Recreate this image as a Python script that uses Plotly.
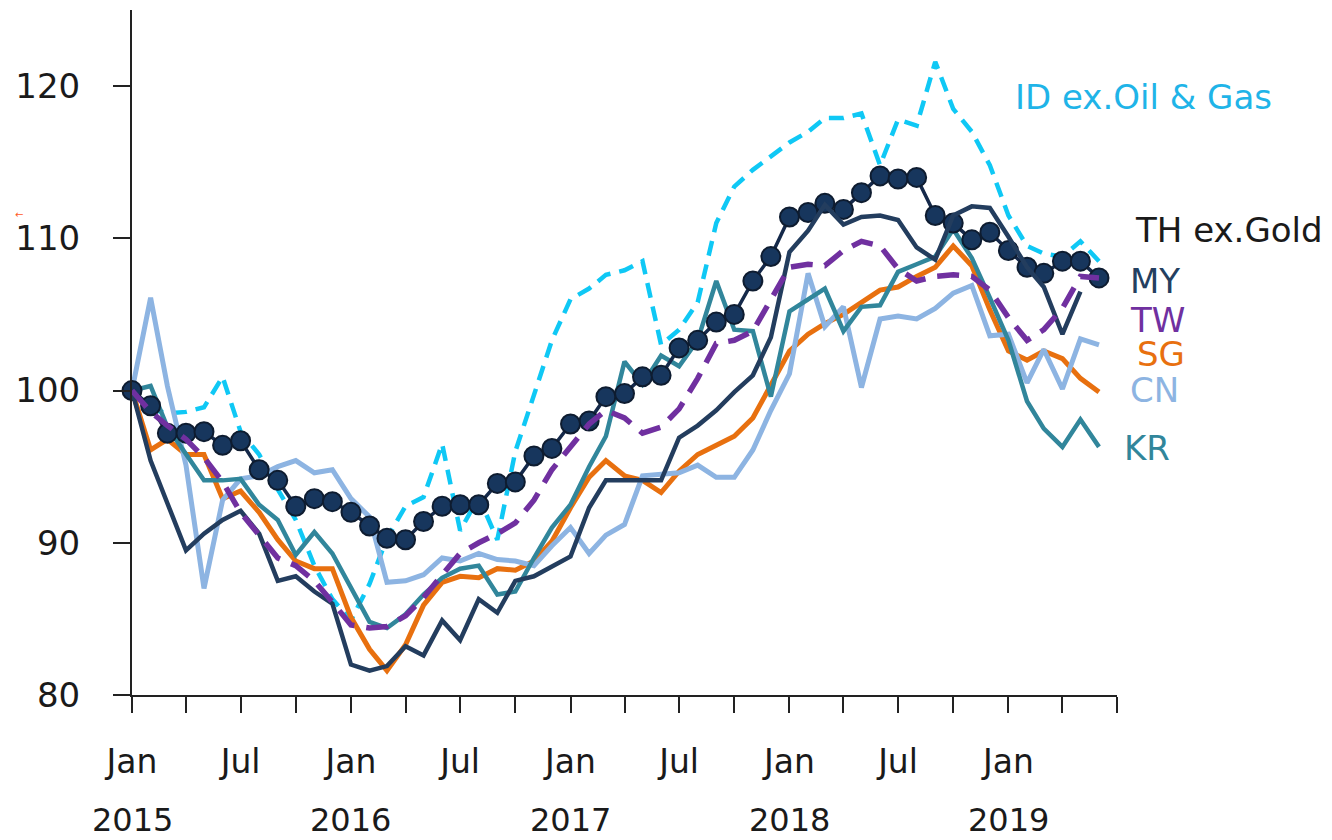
import pandas as pd
import plotly.graph_objects as go

# monthly index values, Jan 2015 = 100
months = pd.date_range("2015-01-01", periods=54, freq="MS")

th_ex_gold = [100.0, 99.0, 97.2, 97.2, 97.3, 96.4, 96.7, 94.8, 94.1, 92.4, 92.9, 92.7,
              92.0, 91.1, 90.3, 90.2, 91.4, 92.4, 92.5, 92.5, 93.9, 94.0, 95.7, 96.2,
              97.8, 98.0, 99.6, 99.8, 100.9, 101.0, 102.8, 103.3, 104.5, 105.0, 107.2, 108.8,
              111.4, 111.7, 112.3, 111.9, 113.0, 114.1, 113.9, 114.0, 111.5, 111.0, 109.9, 110.4,
              109.2, 108.1, 107.7, 108.5, 108.5, 107.4]
my = [100.0, 95.4, 92.6, 89.5, 90.6, 91.5, 92.1, 90.6, 87.5, 87.8, 86.8, 86.0,
      82.0, 81.6, 81.9, 83.2, 82.6, 84.9, 83.6, 86.3, 85.4, 87.5, 87.8, 88.4,
      89.1, 92.3, 94.1, 94.1, 94.1, 94.1, 96.9, 97.7, 98.7, 99.9, 101.0, 103.5,
      109.1, 110.5, 112.2, 110.9, 111.4, 111.5, 111.2, 109.4, 108.6, 111.5, 112.1, 112.0,
      110.1, 108.1, 106.8, 103.7, 106.5]
tw = [100.0, 98.6, 97.7, 96.8, 95.6, 94.0, 92.0, 90.5, 89.0, 88.5, 87.5, 86.1,
      84.6, 84.4, 84.5, 85.2, 86.4, 87.9, 89.3, 90.0, 90.6, 91.3, 92.8, 94.8,
      96.3, 97.8, 98.7, 98.2, 97.2, 97.6, 98.8, 100.8, 103.1, 103.3, 103.9, 105.9,
      108.1, 108.3, 108.2, 109.2, 109.8, 109.5, 108.0, 107.2, 107.5, 107.6, 107.5, 106.6,
      104.8, 103.3, 104.0, 105.4, 107.5, 107.4]
sg = [100.0, 96.1, 96.8, 95.8, 95.8, 92.9, 93.4, 92.0, 90.2, 88.8, 88.3, 88.3,
      85.1, 83.0, 81.6, 83.3, 85.9, 87.4, 87.8, 87.7, 88.3, 88.2, 88.8, 90.1,
      92.3, 94.3, 95.4, 94.4, 94.1, 93.3, 94.7, 95.8, 96.4, 97.0, 98.2, 100.3,
      102.6, 103.7, 104.4, 105.0, 105.8, 106.6, 106.8, 107.5, 108.1, 109.5, 108.2, 105.3,
      102.6, 102.0, 102.6, 102.1, 100.8, 99.9]
cn = [100.0, 106.1, 100.3, 95.1, 87.0, 92.8, 94.2, 94.4, 95.0, 95.4, 94.6, 94.8,
      92.9, 91.7, 87.4, 87.5, 87.9, 89.0, 88.8, 89.3, 88.9, 88.8, 88.5, 89.8,
      91.0, 89.3, 90.5, 91.2, 94.4, 94.5, 94.6, 95.1, 94.3, 94.3, 96.1, 98.7,
      101.1, 107.7, 104.2, 105.5, 100.2, 104.7, 104.9, 104.7, 105.4, 106.4, 106.9, 103.6,
      103.7, 100.5, 102.7, 100.1, 103.4, 103.0]
kr = [100.0, 100.3, 97.6, 95.8, 94.1, 94.1, 94.2, 92.5, 91.5, 89.2, 90.7, 89.3,
      87.1, 84.8, 84.4, 85.3, 86.6, 87.7, 88.3, 88.5, 86.6, 86.8, 89.0, 91.0,
      92.5, 95.0, 97.0, 101.9, 100.4, 102.3, 101.6, 103.3, 107.2, 104.0, 103.9, 99.6,
      105.2, 106.0, 106.7, 103.9, 105.5, 105.6, 107.8, 108.3, 108.8, 110.6, 108.7, 106.1,
      103.3, 99.3, 97.5, 96.3, 98.1, 96.3]
id_ex_oil = [100.0, 98.8, 98.5, 98.6, 98.9, 100.9, 97.3, 95.8, 93.5, 91.5, 88.5, 86.3,
             84.9, 87.3, 90.3, 92.4, 93.0, 96.5, 90.8, 93.0, 90.2, 96.0, 99.7, 103.3,
             106.0, 106.7, 107.6, 107.9, 108.5, 103.0, 104.0, 105.8, 111.0, 113.4, 114.5, 115.4,
             116.3, 117.0, 117.9, 117.9, 118.2, 114.8, 117.8, 117.4, 121.6, 118.5, 117.0, 114.8,
             111.5, 109.5, 109.0, 108.8, 109.8, 108.5]

tick_dates = pd.date_range("2015-01-01", "2019-07-01", freq="3MS")
tick_text = ["Jan" if d.month == 1 else "Jul" if d.month == 7 else "" for d in tick_dates]
tick_text[-1] = ""  # no label on the closing tick
years = [2015, 2016, 2017, 2018, 2019]

FONT = "DejaVu Sans"

fig = go.Figure()

# ID ex.Oil & Gas - cyan dashed
fig.add_trace(go.Scatter(x=months, y=id_ex_oil, mode="lines",
                         line=dict(color="#0FC8F5", width=4.5, dash="15px,9px")))
fig.add_trace(go.Scatter(x=months, y=sg, mode="lines",
                         line=dict(color="#E8700F", width=5)))
fig.add_trace(go.Scatter(x=months, y=cn, mode="lines",
                         line=dict(color="#8DB4E2", width=5)))
fig.add_trace(go.Scatter(x=months, y=kr, mode="lines",
                         line=dict(color="#31869B", width=4.5)))
# TH ex.Gold - dots
fig.add_trace(go.Scatter(x=months, y=th_ex_gold, mode="lines+markers", cliponaxis=False,
                         line=dict(color="#15294A", width=3.5),
                         marker=dict(size=19, color="#17365D",
                                     line=dict(color="#0E1C30", width=2))))
fig.add_trace(go.Scatter(x=months[:len(my)], y=my, mode="lines",
                         line=dict(color="#233D5E", width=4.5)))
fig.add_trace(go.Scatter(x=months, y=tw, mode="lines",
                         line=dict(color="#7030A0", width=5.5, dash="22px,12px")))

# series labels on the right
labels = [
    ("ID ex.Oil & Gas", "#1FB4E8", 1013, 97),
    ("TH ex.Gold", "#1A1A1A", 1133, 230),
    ("MY", "#243F60", 1128, 281),
    ("TW", "#7030A0", 1128, 320),
    ("SG", "#E8700F", 1135, 354),
    ("CN", "#8DB4E2", 1128, 390),
    ("KR", "#31869B", 1122, 448),
]
x0, x1, y0, y1 = 132, 1117, 10, 695
for text, color, px, py in labels:
    fig.add_annotation(text=text, xref="paper", yref="paper",
                       x=(px - x0) / (x1 - x0), y=(y1 - py) / (y1 - y0),
                       xanchor="left", yanchor="middle", showarrow=False,
                       font=dict(family=FONT, size=34, color=color))

# stray little arrow seen at the far left of the original
fig.add_annotation(text="←", xref="paper", yref="paper",
                   x=(13 - x0) / (x1 - x0), y=(y1 - 207) / (y1 - y0),
                   showarrow=False, font=dict(family=FONT, size=10, color="#FF5A1F"))

for yr in years:
    fig.add_annotation(text=str(yr), xref="x", yref="paper",
                       x=f"{yr}-01-01", y=(y1 - 820) / (y1 - y0),
                       xanchor="center", yanchor="middle", showarrow=False,
                       font=dict(family=FONT, size=32, color="#1A1A1A"))

fig.update_layout(
    width=1332, height=840,
    margin=dict(l=x0, r=1332 - x1, t=y0, b=840 - y1, autoexpand=False),
    plot_bgcolor="white", paper_bgcolor="white",
    showlegend=False, hovermode=False,
    font=dict(family=FONT, color="#1A1A1A"),
)
fig.update_xaxes(
    type="date", range=["2015-01-01", "2019-07-01"],
    tickvals=tick_dates, ticktext=tick_text,
    showline=True, linecolor="#222", linewidth=2,
    ticks="outside", ticklen=16, tickwidth=2, tickcolor="#222",
    showgrid=False, zeroline=False, automargin=False,
    tickfont=dict(family=FONT, size=33, color="#1A1A1A"),
    ticklabelstandoff=20,
)
fig.update_yaxes(
    range=[80, 125], tickvals=[80, 90, 100, 110, 120],
    showline=True, linecolor="#222", linewidth=2,
    ticks="outside", ticklen=17, tickwidth=2, tickcolor="#222",
    showgrid=False, zeroline=False, automargin=False,
    tickfont=dict(family=FONT, size=34, color="#1A1A1A"),
    ticklabelstandoff=26,
)

# the page body has a default 8px margin; drop it so the chart sits at the corner
fig.write_html("out.html", config={"displayModeBar": False},
               post_script="document.body.style.margin='0';")
